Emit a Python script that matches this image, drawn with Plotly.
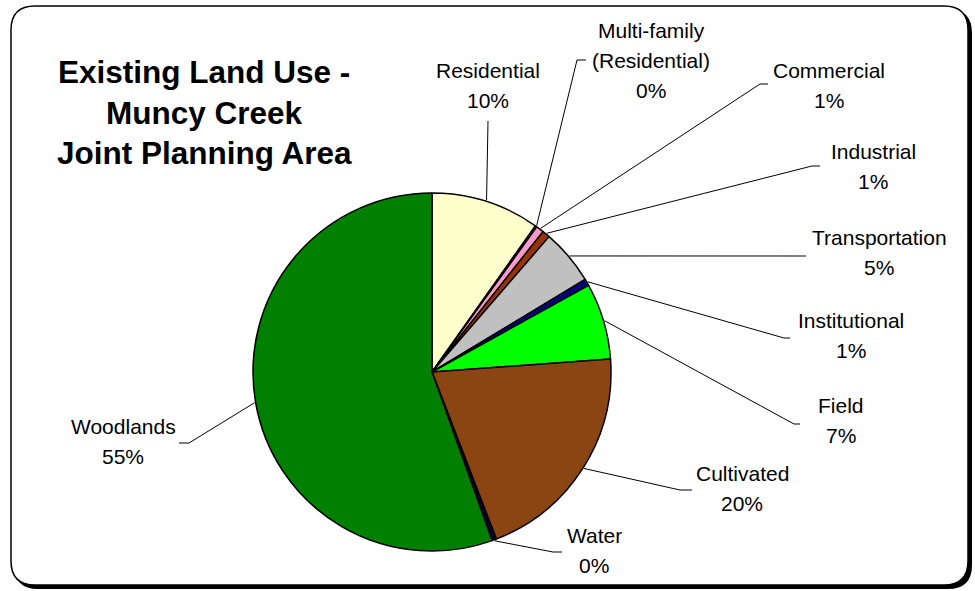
import math
import plotly.graph_objects as go

# Land use shares (percent of planning area), clockwise from 12 o'clock
categories = ["Residential", "Multi-family<br>(Residential)", "Commercial", "Industrial",
              "Transportation", "Institutional", "Field", "Cultivated", "Water", "Woodlands"]
shares = [9.8, 0.15, 0.7, 0.7, 5.0, 0.6, 6.9, 20.3, 0.4, 55.45]
colors = ["#FFFFCC", "#CC9900", "#FF99CC", "#993300", "#C0C0C0",
          "#000080", "#00FF00", "#8B4513", "#000033", "#008000"]
title_lines = ["Existing Land Use -", "Muncy Creek", "Joint Planning Area"]

W, H = 975, 591
CX, CY, R = 432, 372, 179  # pie centre / radius in pixels
FONT = "Arial, Liberation Sans, sans-serif"

# label text anchor (centre of first line) and leader-line elbow / end points
label_layout = {
    "Residential": dict(pos=(488, 70), elbow=(488, 121), end=(488, 121)),
    "Multi-family<br>(Residential)": dict(pos=(651, 30), elbow=(577, 60), end=(586, 60)),
    "Commercial": dict(pos=(829, 70), elbow=(760, 84), end=(768, 84)),
    "Industrial": dict(pos=(873, 151), elbow=(812, 166), end=(820, 166)),
    "Transportation": dict(pos=(879, 237), elbow=(800, 256), end=(806, 256)),
    "Institutional": dict(pos=(851, 320), elbow=(784, 338), end=(790, 338)),
    "Field": dict(pos=(841, 405), elbow=(794, 424), end=(800, 424)),
    "Cultivated": dict(pos=(742, 473), elbow=(680, 490), end=(692, 490)),
    "Water": dict(pos=(594, 535), elbow=(553, 552), end=(562, 552)),
    "Woodlands": dict(pos=(123, 426), elbow=(189, 443), end=(179, 443)),
}
LINE_GAP = 30

total = sum(shares)

fig = go.Figure()
fig.add_trace(go.Pie(
    labels=categories, values=shares, sort=False, direction="clockwise", rotation=0,
    marker=dict(colors=colors, line=dict(color="black", width=1.5)),
    textinfo="none", hoverinfo="label+percent", showlegend=False,
    domain=dict(x=[(CX - R) / W, (CX + R) / W], y=[(H - CY - R) / H, (H - CY + R) / H]),
))

shapes = []


def rounded_rect(x0, y0, x1, y1, r):
    return (f"M{x0 + r},{y0} L{x1 - r},{y0} Q{x1},{y0} {x1},{y0 + r} "
            f"L{x1},{y1 - r} Q{x1},{y1} {x1 - r},{y1} L{x0 + r},{y1} "
            f"Q{x0},{y1} {x0},{y1 - r} L{x0},{y0 + r} Q{x0},{y0} {x0 + r},{y0} Z")


# card with drop shadow
shapes.append(dict(type="path", path=rounded_rect(14, 9, 972, 589, 24), xref="x", yref="y",
                   fillcolor="black", line=dict(width=0), layer="below"))
shapes.append(dict(type="path", path=rounded_rect(11, 6, 968, 585, 24), xref="x", yref="y",
                   fillcolor="white", line=dict(color="black", width=1.5), layer="below"))

annotations = []
cum = 0.0
for name, v in zip(categories, shares):
    mid = (cum + v / 2) / total * 2 * math.pi
    cum += v
    lay = label_layout[name]
    sx = CX + (R + 1) * math.sin(mid)
    sy = CY - (R + 1) * math.cos(mid)
    ex, ey = lay["elbow"]
    fx, fy = lay["end"]
    shapes.append(dict(type="line", x0=sx, y0=sy, x1=ex, y1=ey, xref="x", yref="y",
                       line=dict(color="black", width=1)))
    if (ex, ey) != (fx, fy):
        shapes.append(dict(type="line", x0=ex, y0=ey, x1=fx, y1=fy, xref="x", yref="y",
                           line=dict(color="black", width=1)))
    pct = f"{round(v / total * 100)}%"
    lines = name.split("<br>") + [pct]
    px, py = lay["pos"]
    for i, t in enumerate(lines):
        annotations.append(dict(x=px, y=py + i * LINE_GAP, xref="x", yref="y", text=t,
                                showarrow=False, xanchor="center", yanchor="middle",
                                font=dict(family=FONT, size=21, color="black")))

for i, t in enumerate(title_lines):
    annotations.append(dict(x=204, y=72 + i * 40.5, xref="x", yref="y", text=f"<b>{t}</b>",
                            showarrow=False, xanchor="center", yanchor="middle",
                            font=dict(family=FONT, size=31.5, color="black")))

fig.update_layout(
    width=W, height=H, margin=dict(l=0, r=0, t=0, b=0),
    paper_bgcolor="white", plot_bgcolor="rgba(0,0,0,0)",
    xaxis=dict(range=[0, W], visible=False, fixedrange=True),
    yaxis=dict(range=[H, 0], visible=False, fixedrange=True),
    shapes=shapes, annotations=annotations,
)

fig.write_html("out.html")
